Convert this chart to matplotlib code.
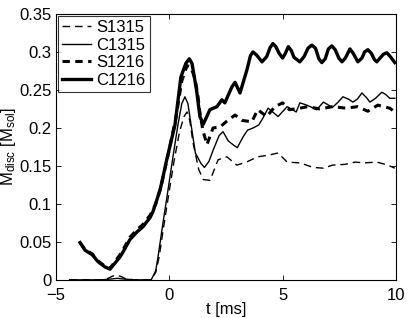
import numpy as np
import matplotlib
matplotlib.use("Agg")
import matplotlib.pyplot as plt

plt.rcParams['font.family'] = ['Liberation Sans', 'DejaVu Sans']
plt.rcParams['mathtext.fontset'] = 'custom'
plt.rcParams['mathtext.rm'] = 'Liberation Sans'
plt.rcParams['mathtext.it'] = 'Liberation Sans'

# S1315 (thin dashed)
t_s1315 = [-4.4, -3.0, -2.7, -2.5, -2.3, -2.1, -1.9, -1.5, -0.8, -0.6, -0.45, -0.25, -0.03,
           0.2, 0.45, 0.65, 0.78, 0.9, 1.05, 1.3, 1.5, 1.8, 2.15, 2.54, 2.98, 3.4, 3.9,
           4.35, 4.8, 5.2, 5.76, 6.35, 6.8, 7.2, 7.75, 8.2, 8.6, 9.16, 9.65, 9.95]
m_s1315 = [0, 0, 0.002, 0.005, 0.006, 0.004, 0.001, 0, 0, 0.01, 0.03, 0.07, 0.112,
           0.155, 0.195, 0.215, 0.221, 0.21, 0.18, 0.145, 0.132, 0.131, 0.158, 0.162, 0.151, 0.155, 0.162,
           0.164, 0.167, 0.155, 0.154, 0.148, 0.147, 0.151, 0.152, 0.155, 0.154, 0.155, 0.151, 0.147]

# C1315 (thin solid)
t_c1315 = [-4.4, -3.0, -2.6, -2.3, -2.0, -1.5, -0.8, -0.6, -0.5, -0.28, -0.06, 0.15, 0.38, 0.55,
           0.69, 0.82, 0.95, 1.15, 1.4, 1.55, 1.75, 1.95, 2.2, 2.37, 2.6, 2.85, 3.0, 3.25, 3.45,
           3.7, 3.95, 4.15, 4.36, 4.8, 5.2, 5.6, 5.76, 6.07, 6.5, 6.8, 7.2, 7.45, 7.66, 7.9, 8.1,
           8.3, 8.5, 8.7, 8.85, 9.1, 9.38, 9.55, 9.73, 9.95]
m_c1315 = [0, 0, 0.001, 0.002, 0.001, 0, 0, 0.012, 0.03, 0.075, 0.118, 0.16, 0.204, 0.232,
           0.241, 0.232, 0.206, 0.167, 0.153, 0.148, 0.156, 0.172, 0.19, 0.195, 0.183, 0.177, 0.174, 0.188, 0.197,
           0.200, 0.204, 0.214, 0.226, 0.215, 0.228, 0.221, 0.233, 0.23, 0.224, 0.234, 0.227, 0.234, 0.241, 0.238,
           0.234, 0.238, 0.246, 0.240, 0.234, 0.239, 0.247, 0.244, 0.239, 0.239]

# S1216 (thick dashed)
t_s1216 = [-3.94, -3.72, -3.4, -3.15, -2.84, -2.62, -2.4, -2.18, -2.0, -1.74, -1.43, -1.16, -0.85,
           -0.6, -0.35, -0.05, 0.3, 0.55, 0.78, 0.95, 1.13, 1.25, 1.35, 1.48, 1.66, 1.93, 2.23,
           2.5, 2.9, 3.2, 3.64, 3.9, 4.3, 4.66, 5.0, 5.3, 5.76, 6.1, 6.64, 7.2, 7.8, 8.3, 8.76,
           9.2, 9.73, 9.95]
m_s1216 = [0.049, 0.040, 0.034, 0.025, 0.018, 0.015, 0.024, 0.033, 0.042, 0.056, 0.066, 0.073, 0.085,
           0.100, 0.125, 0.165, 0.215, 0.262, 0.282, 0.280, 0.265, 0.245, 0.22, 0.197, 0.178, 0.200, 0.201,
           0.208, 0.217, 0.21, 0.208, 0.224, 0.215, 0.228, 0.233, 0.224, 0.226, 0.228, 0.225, 0.228, 0.226,
           0.228, 0.222, 0.23, 0.226, 0.221]

# C1216 (thick solid)
t_c1216 = [-3.94, -3.72, -3.4, -3.15, -2.84, -2.62, -2.4, -2.18, -2.0, -1.74, -1.43, -1.16, -0.85,
           -0.72, -0.41, -0.1, 0.25, 0.51, 0.73, 0.88, 1.0, 1.2, 1.35, 1.5, 1.79, 2.1, 2.32, 2.45,
           2.76, 2.9, 3.12, 3.42, 3.58, 3.69, 3.85, 4.09, 4.3, 4.45, 4.57, 4.7, 4.85, 5.0, 5.12,
           5.25, 5.38, 5.5, 5.76, 5.95, 6.12, 6.29, 6.45, 6.6, 6.73, 6.88, 7.02, 7.17, 7.32, 7.48,
           7.62, 7.77, 7.97, 8.12, 8.32, 8.5, 8.62, 8.76, 8.92, 9.05, 9.16, 9.3, 9.45, 9.6, 9.75, 9.95]
m_c1216 = [0.049, 0.039, 0.033, 0.024, 0.017, 0.014, 0.022, 0.030, 0.039, 0.053, 0.063, 0.070, 0.082,
           0.090, 0.118, 0.16, 0.204, 0.267, 0.285, 0.291, 0.285, 0.25, 0.215, 0.205, 0.224, 0.228, 0.237, 0.233,
           0.254, 0.26, 0.246, 0.276, 0.295, 0.300, 0.296, 0.287, 0.294, 0.306, 0.311, 0.307, 0.298, 0.292, 0.298,
           0.307, 0.302, 0.293, 0.287, 0.294, 0.305, 0.309, 0.305, 0.291, 0.286, 0.291, 0.304, 0.308, 0.303, 0.292,
           0.287, 0.292, 0.304, 0.298, 0.287, 0.292, 0.300, 0.303, 0.298, 0.290, 0.287, 0.292, 0.297, 0.299, 0.294, 0.286]

yticks = [0, 0.05, 0.1, 0.15, 0.2, 0.25, 0.3, 0.35]
ytick_labels = ['0', '0.05', '0.1', '0.15', '0.2', '0.25', '0.3', '0.35']
xticks = [-5, 0, 5, 10]

fig = plt.figure(figsize=(4.09, 3.18), dpi=100)
ax = fig.add_axes([0.137, 0.12, 0.831, 0.836])

ax.plot(t_s1315, m_s1315, color='k', lw=1.0, linestyle=(0, (5.5, 3.5)), label='S1315')
ax.plot(t_c1315, m_c1315, color='k', lw=1.0, label='C1315')
ax.plot(t_s1216, m_s1216, color='k', lw=2.2, linestyle=(0, (2.4, 1.8)), label='S1216')
ax.plot(t_c1216, m_c1216, color='k', lw=2.4, label='C1216')

ax.set_xlim(-5, 10)
ax.set_ylim(0, 0.35)
ax.set_xticks(xticks)
ax.set_yticks(yticks)
ax.set_yticklabels(ytick_labels)
ax.tick_params(direction='in', top=True, right=True, length=3.5, width=0.6, labelsize=12, pad=3)
ax.tick_params(axis='x', pad=6)
for s in ax.spines.values():
    s.set_linewidth(0.8)

ax.set_xlabel('t [ms]', fontsize=12, labelpad=-1)
ax.set_ylabel(r'M$_{\mathrm{disc}}$ [M$_{\mathrm{sol}}$]', fontsize=12, labelpad=1)

leg = ax.legend(loc='upper left', fontsize=12, frameon=True, fancybox=False,
                edgecolor='k', handlelength=1.7, handletextpad=0.35, labelspacing=0.15,
                borderpad=0.25, borderaxespad=0.12)
leg.get_frame().set_linewidth(0.8)

fig.savefig('out.png', dpi=100)
